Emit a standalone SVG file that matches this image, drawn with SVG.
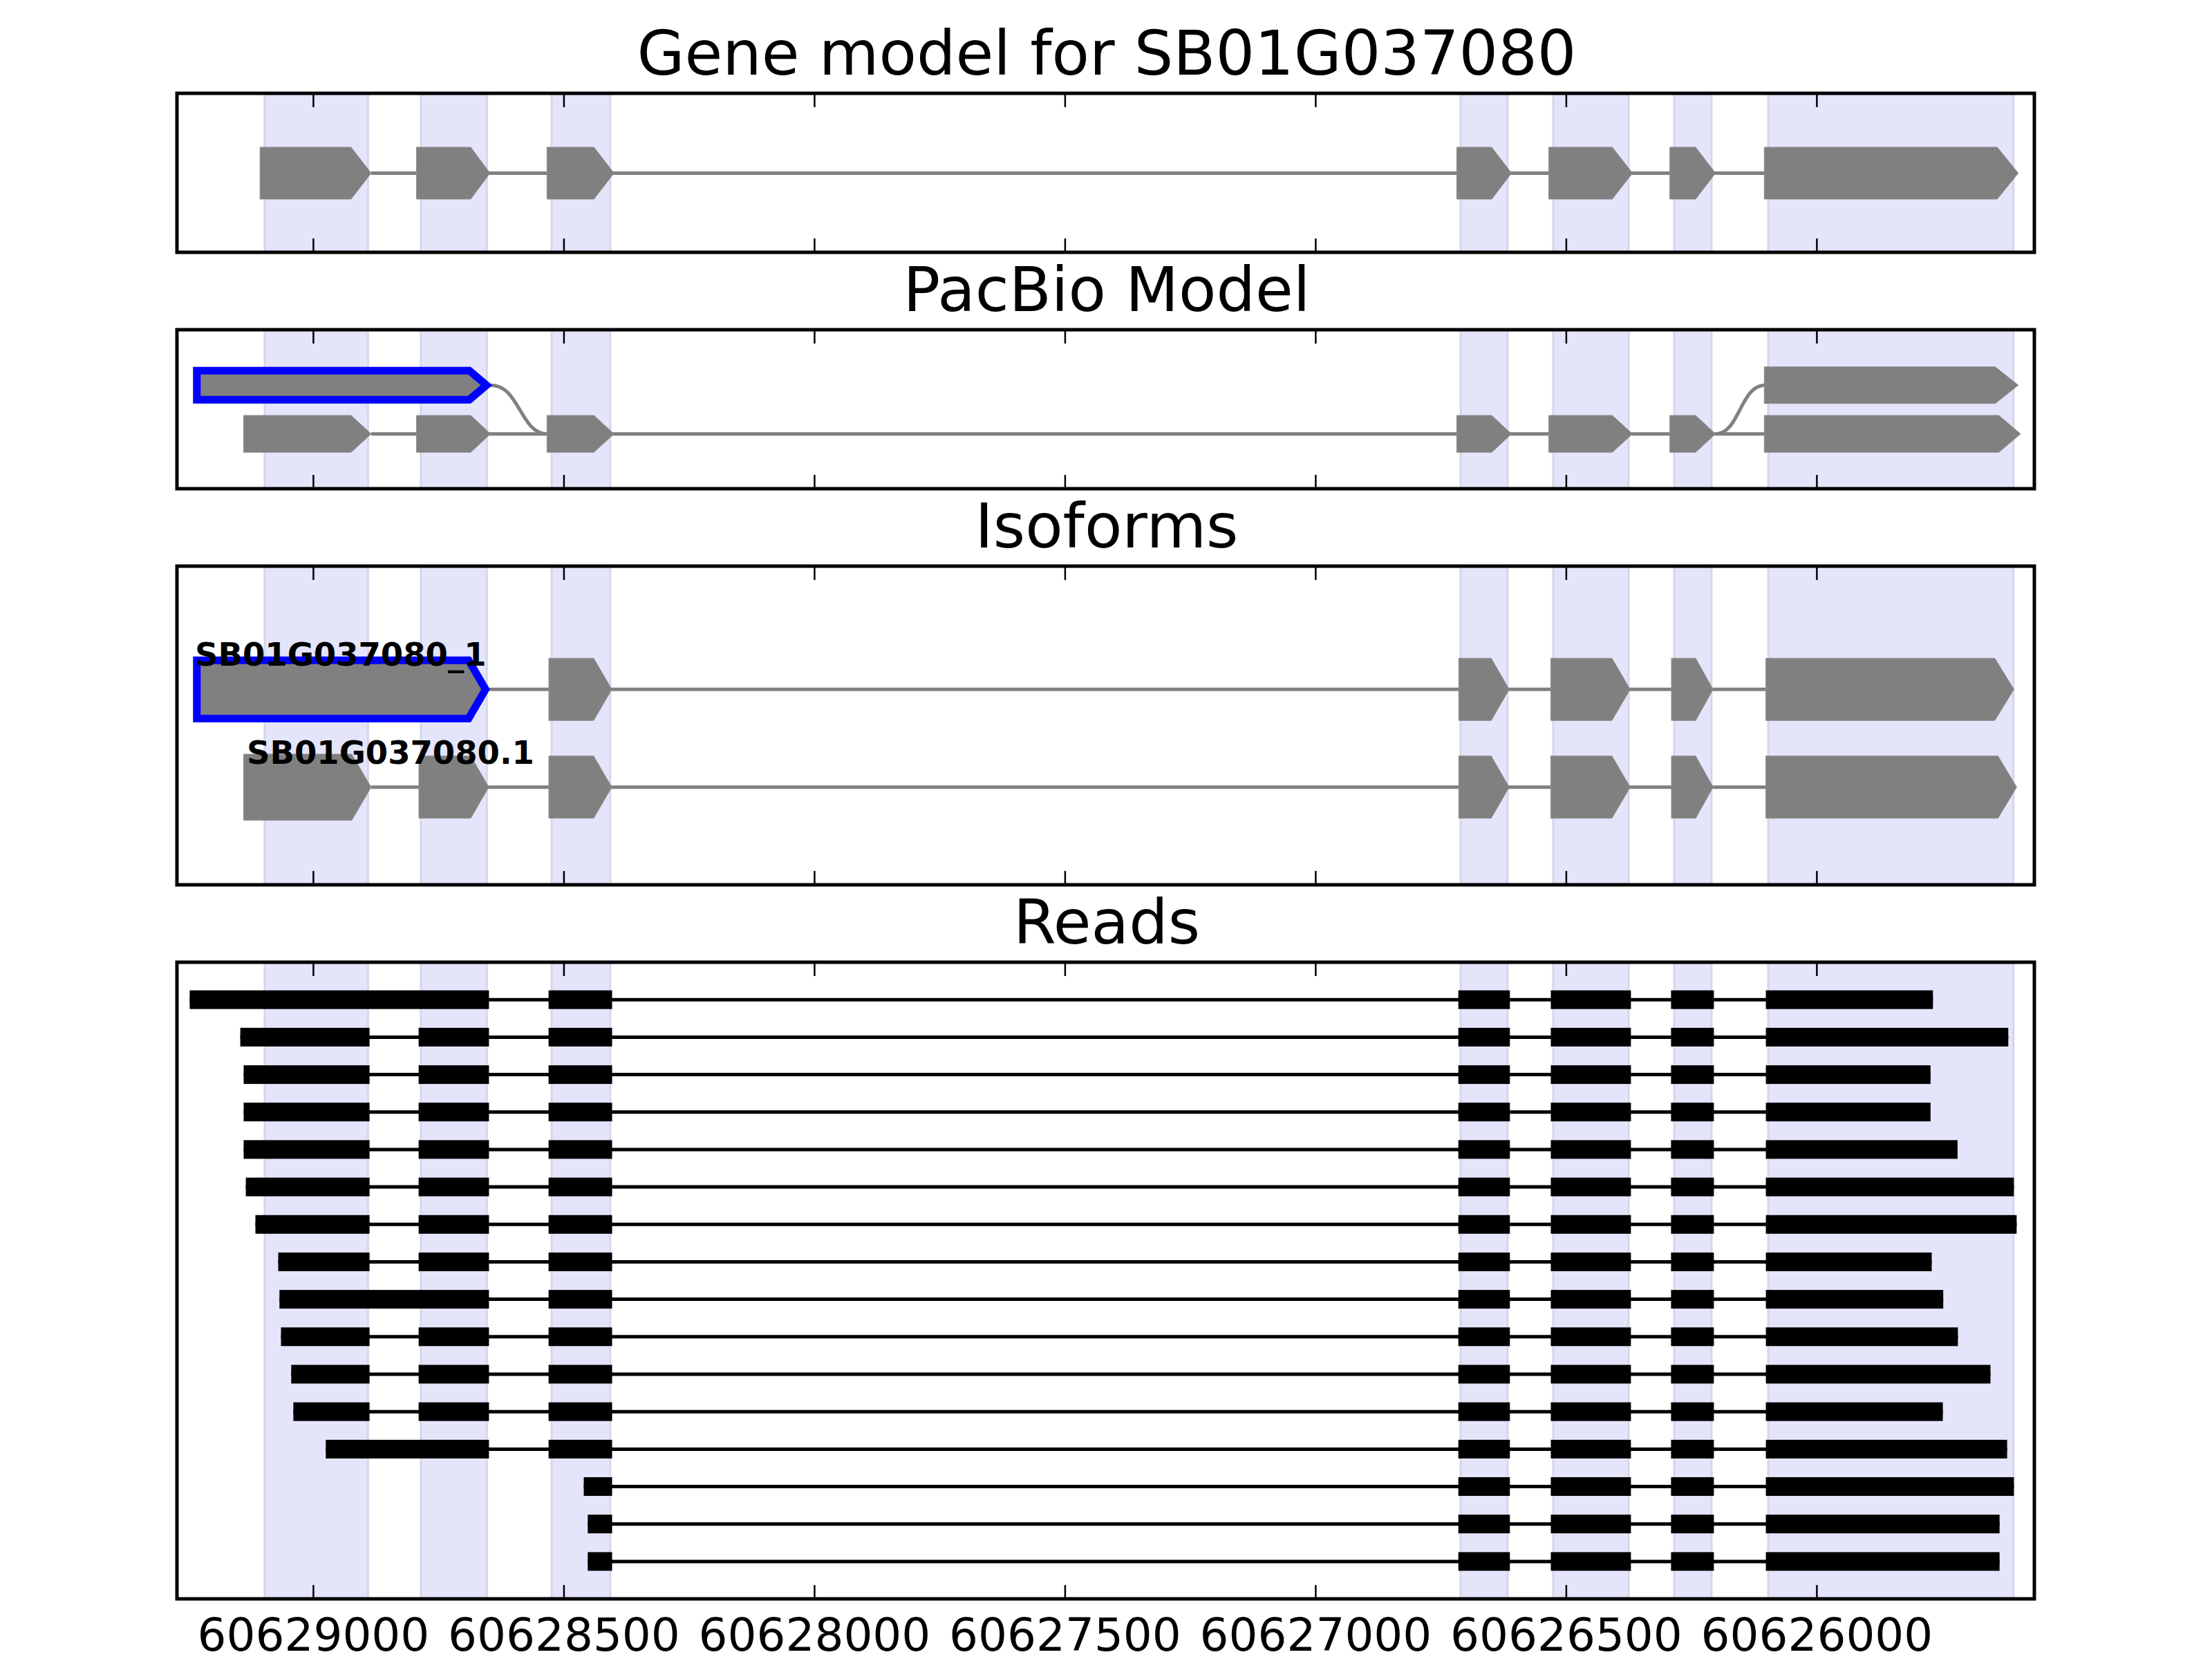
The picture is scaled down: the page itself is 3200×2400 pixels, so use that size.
<svg xmlns="http://www.w3.org/2000/svg" xmlns:xlink="http://www.w3.org/1999/xlink" width="3200" height="2400" viewBox="0 0 3200 2400">
<style>
.frame{fill:none;stroke:#000;stroke-width:5}
.shade{fill:#e4e4fb;stroke:#d6d6ea;stroke-width:3}
.exon{fill:#808080;stroke:#8c8c8c;stroke-width:1}
.intron{fill:none;stroke:#808080;stroke-width:5}
.read{fill:#000}
.rline{stroke:#000;stroke-width:5}
.tick{stroke:#000;stroke-width:2.5}
.title{font-family:"DejaVu Sans",sans-serif;font-size:89px;text-anchor:middle;fill:#000}
.tl{font-family:"DejaVu Sans",sans-serif;font-size:66px;text-anchor:middle;fill:#000}
.lbl{font-family:"DejaVu Sans",sans-serif;font-weight:bold;font-size:46.5px;fill:#000}
.blue{fill:#808080;stroke:#0000ff;stroke-width:22}
</style>
<defs>
<g id="tt">
<line class="tick" x1="453.4" y1="0" x2="453.4" y2="20"/><line class="tick" x1="815.9" y1="0" x2="815.9" y2="20"/><line class="tick" x1="1178.4" y1="0" x2="1178.4" y2="20"/><line class="tick" x1="1540.9" y1="0" x2="1540.9" y2="20"/><line class="tick" x1="1903.4" y1="0" x2="1903.4" y2="20"/><line class="tick" x1="2265.9" y1="0" x2="2265.9" y2="20"/><line class="tick" x1="2628.4" y1="0" x2="2628.4" y2="20"/>
</g>
<g id="tb">
<line class="tick" x1="453.4" y1="-20" x2="453.4" y2="0"/><line class="tick" x1="815.9" y1="-20" x2="815.9" y2="0"/><line class="tick" x1="1178.4" y1="-20" x2="1178.4" y2="0"/><line class="tick" x1="1540.9" y1="-20" x2="1540.9" y2="0"/><line class="tick" x1="1903.4" y1="-20" x2="1903.4" y2="0"/><line class="tick" x1="2265.9" y1="-20" x2="2265.9" y2="0"/><line class="tick" x1="2628.4" y1="-20" x2="2628.4" y2="0"/>
</g>
<g id="rc"><rect class="read" x="793.6" y="-13.5" width="91.9" height="27"/></g>
<g id="rdef"><rect class="read" x="2109.7" y="-13.5" width="74.6" height="27"/><rect class="read" x="2243.5" y="-13.5" width="115.9" height="27"/><rect class="read" x="2417.4" y="-13.5" width="62" height="27"/></g>
<g id="rb"><rect class="read" x="605.6" y="-13.5" width="101.8" height="27"/></g>
<clipPath id="c2"><path d="M279.3,530.7 L681,530.7 L712.3,557.2 L681,583.7 L279.3,583.7 Z"/></clipPath>
<clipPath id="c3"><path d="M279.3,949.7 L681,949.7 L708.8,997.3 L681,1045 L279.3,1045 Z"/></clipPath>
</defs>
<rect x="0" y="0" width="3200" height="2400" fill="#fff"/>

<g id="panel-gene-model">
<rect class="shade" x="382.9" y="135" width="149.5" height="230"/><rect class="shade" x="608.8" y="135" width="95.5" height="230"/><rect class="shade" x="798" y="135" width="84.9" height="230"/><rect class="shade" x="2113" y="135" width="68" height="230"/><rect class="shade" x="2247" y="135" width="109" height="230"/><rect class="shade" x="2422" y="135" width="54" height="230"/><rect class="shade" x="2558" y="135" width="354.8" height="230"/>
<text class="title" x="1601" y="108">Gene model for SB01G037080</text>
</g>
<g id="panel-pacbio">
<rect class="shade" x="382.9" y="477" width="149.5" height="230"/><rect class="shade" x="608.8" y="477" width="95.5" height="230"/><rect class="shade" x="798" y="477" width="84.9" height="230"/><rect class="shade" x="2113" y="477" width="68" height="230"/><rect class="shade" x="2247" y="477" width="109" height="230"/><rect class="shade" x="2422" y="477" width="54" height="230"/><rect class="shade" x="2558" y="477" width="354.8" height="230"/>
<text class="title" x="1601" y="450">PacBio Model</text>
</g>
<g id="panel-isoforms">
<rect class="shade" x="382.9" y="819" width="149.5" height="461"/><rect class="shade" x="608.8" y="819" width="95.5" height="461"/><rect class="shade" x="798" y="819" width="84.9" height="461"/><rect class="shade" x="2113" y="819" width="68" height="461"/><rect class="shade" x="2247" y="819" width="109" height="461"/><rect class="shade" x="2422" y="819" width="54" height="461"/><rect class="shade" x="2558" y="819" width="354.8" height="461"/>
<text class="title" x="1601" y="792">Isoforms</text>
</g>
<g id="panel-reads">
<rect class="shade" x="382.9" y="1392" width="149.5" height="921"/><rect class="shade" x="608.8" y="1392" width="95.5" height="921"/><rect class="shade" x="798" y="1392" width="84.9" height="921"/><rect class="shade" x="2113" y="1392" width="68" height="921"/><rect class="shade" x="2247" y="1392" width="109" height="921"/><rect class="shade" x="2422" y="1392" width="54" height="921"/><rect class="shade" x="2558" y="1392" width="354.8" height="921"/>
<text class="title" x="1601" y="1365">Reads</text>
</g>

<g id="connectors">
<line class="intron" x1="537" y1="250.5" x2="2553" y2="250.5"/>
<line class="intron" x1="537" y1="627.7" x2="2553" y2="627.7"/>
<path class="intron" d="M710,557.2 C752,557.2 752,627.7 792,627.7"/>
<path class="intron" d="M2481.7,627.7 C2517,627.7 2517,557.2 2554,557.2"/>
<line class="intron" x1="708" y1="997.3" x2="2555" y2="997.3"/>
<line class="intron" x1="537" y1="1138.7" x2="2555" y2="1138.7"/>
<line class="rline" x1="274.4" y1="1446.2" x2="2796.3" y2="1446.2"/>
<line class="rline" x1="347.6" y1="1500.4" x2="2905.3" y2="1500.4"/>
<line class="rline" x1="352.5" y1="1554.6" x2="2792.8" y2="1554.6"/>
<line class="rline" x1="352.5" y1="1608.7" x2="2792.8" y2="1608.7"/>
<line class="rline" x1="352.5" y1="1662.9" x2="2831.9" y2="1662.9"/>
<line class="rline" x1="355.6" y1="1717.1" x2="2913.4" y2="1717.1"/>
<line class="rline" x1="369.5" y1="1771.3" x2="2917.4" y2="1771.3"/>
<line class="rline" x1="402.5" y1="1825.5" x2="2794.5" y2="1825.5"/>
<line class="rline" x1="404.3" y1="1879.6" x2="2811.2" y2="1879.6"/>
<line class="rline" x1="406.5" y1="1933.8" x2="2832.4" y2="1933.8"/>
<line class="rline" x1="421.3" y1="1988" x2="2879.5" y2="1988"/>
<line class="rline" x1="424.4" y1="2042.2" x2="2810.6" y2="2042.2"/>
<line class="rline" x1="471.3" y1="2096.4" x2="2903.6" y2="2096.4"/>
<line class="rline" x1="844.5" y1="2150.5" x2="2913.4" y2="2150.5"/>
<line class="rline" x1="850.3" y1="2204.7" x2="2892.7" y2="2204.7"/>
<line class="rline" x1="850.3" y1="2258.9" x2="2892.7" y2="2258.9"/>
</g>

<g id="gene-model-exons">
<path class="exon" d="M376.2,213 L507.9,213 L536.9,250.5 L507.9,288 L376.2,288 Z"/>
<path class="exon" d="M602.5,213 L681,213 L708.8,250.5 L681,288 L602.5,288 Z"/>
<path class="exon" d="M791.3,213 L859.2,213 L888.2,250.5 L859.2,288 L791.3,288 Z"/>
<path class="exon" d="M2107.4,213 L2158,213 L2186.6,250.5 L2158,288 L2107.4,288 Z"/>
<path class="exon" d="M2240.6,213 L2332.4,213 L2361.7,250.5 L2332.4,288 L2240.6,288 Z"/>
<path class="exon" d="M2415.7,213 L2453,213 L2481.7,250.5 L2453,288 L2415.7,288 Z"/>
<path class="exon" d="M2552.3,213 L2889.3,213 L2919.7,250.5 L2889.3,288 L2552.3,288 Z"/>
</g>
<g id="pacbio-exons">
<path class="blue" clip-path="url(#c2)" d="M279.3,530.7 L681,530.7 L712.3,557.2 L681,583.7 L279.3,583.7 Z"/>
<path class="exon" d="M2552.3,530.7 L2886.4,530.7 L2919.7,557.2 L2886.4,583.7 L2552.3,583.7 Z"/>
<path class="exon" d="M352.5,601 L507.9,601 L536.9,627.7 L507.9,654.3 L352.5,654.3 Z"/>
<path class="exon" d="M602.5,601 L681,601 L709.6,627.7 L681,654.3 L602.5,654.3 Z"/>
<path class="exon" d="M791.3,601 L859.2,601 L888.2,627.7 L859.2,654.3 L791.3,654.3 Z"/>
<path class="exon" d="M2107.4,601 L2158,601 L2186.6,627.7 L2158,654.3 L2107.4,654.3 Z"/>
<path class="exon" d="M2240.6,601 L2332.4,601 L2361.7,627.7 L2332.4,654.3 L2240.6,654.3 Z"/>
<path class="exon" d="M2415.7,601 L2453,601 L2481.7,627.7 L2453,654.3 L2415.7,654.3 Z"/>
<path class="exon" d="M2552.3,601 L2891.6,601 L2923,627.7 L2891.6,654.3 L2552.3,654.3 Z"/>
</g>
<g id="isoform-1">
<path class="blue" clip-path="url(#c3)" d="M279.3,949.7 L681,949.7 L708.8,997.3 L681,1045 L279.3,1045 Z"/>
<path class="exon" d="M794,952.3 L858.8,952.3 L885,997.3 L858.8,1042.3 L794,1042.3 Z"/>
<path class="exon" d="M2110.3,952.3 L2157.3,952.3 L2183.2,997.3 L2157.3,1042.3 L2110.3,1042.3 Z"/>
<path class="exon" d="M2243.5,952.3 L2331.9,952.3 L2358.3,997.3 L2331.9,1042.3 L2243.5,1042.3 Z"/>
<path class="exon" d="M2418,952.3 L2453,952.3 L2478.2,997.3 L2453,1042.3 L2418,1042.3 Z"/>
<path class="exon" d="M2554.6,952.3 L2885.8,952.3 L2913.4,997.3 L2885.8,1042.3 L2554.6,1042.3 Z"/>
<text class="lbl" x="282" y="963">SB01G037080_1</text>
</g>
<g id="isoform-2">
<path class="exon" d="M352.5,1091 L508.8,1091 L536.9,1138.8 L508.8,1186.7 L352.5,1186.7 Z"/>
<path class="exon" d="M606,1093.7 L681,1093.7 L707,1138.7 L681,1183.7 L606,1183.7 Z"/>
<path class="exon" d="M794,1093.7 L858.8,1093.7 L885,1138.7 L858.8,1183.7 L794,1183.7 Z"/>
<path class="exon" d="M2110.3,1093.7 L2157.3,1093.7 L2183.2,1138.7 L2157.3,1183.7 L2110.3,1183.7 Z"/>
<path class="exon" d="M2243.5,1093.7 L2331.9,1093.7 L2358.3,1138.7 L2331.9,1183.7 L2243.5,1183.7 Z"/>
<path class="exon" d="M2418,1093.7 L2453,1093.7 L2478.2,1138.7 L2453,1183.7 L2418,1183.7 Z"/>
<path class="exon" d="M2554.6,1093.7 L2890.4,1093.7 L2917.4,1138.7 L2890.4,1183.7 L2554.6,1183.7 Z"/>
<text class="lbl" x="357" y="1105">SB01G037080.1</text>
</g>
<g id="reads">
<g transform="translate(0,1446.2)"><rect class="read" x="274.4" y="-13.5" width="433" height="27"/><use xlink:href="#rc"/><use xlink:href="#rdef"/><rect class="read" x="2554.6" y="-13.5" width="241.7" height="27"/></g>
<g transform="translate(0,1500.4)"><rect class="read" x="347.6" y="-13.5" width="187" height="27"/><use xlink:href="#rb"/><use xlink:href="#rc"/><use xlink:href="#rdef"/><rect class="read" x="2554.6" y="-13.5" width="350.7" height="27"/></g>
<g transform="translate(0,1554.6)"><rect class="read" x="352.5" y="-13.5" width="182.1" height="27"/><use xlink:href="#rb"/><use xlink:href="#rc"/><use xlink:href="#rdef"/><rect class="read" x="2554.6" y="-13.5" width="238.2" height="27"/></g>
<g transform="translate(0,1608.7)"><rect class="read" x="352.5" y="-13.5" width="182.1" height="27"/><use xlink:href="#rb"/><use xlink:href="#rc"/><use xlink:href="#rdef"/><rect class="read" x="2554.6" y="-13.5" width="238.2" height="27"/></g>
<g transform="translate(0,1662.9)"><rect class="read" x="352.5" y="-13.5" width="182.1" height="27"/><use xlink:href="#rb"/><use xlink:href="#rc"/><use xlink:href="#rdef"/><rect class="read" x="2554.6" y="-13.5" width="277.3" height="27"/></g>
<g transform="translate(0,1717.1)"><rect class="read" x="355.6" y="-13.5" width="179" height="27"/><use xlink:href="#rb"/><use xlink:href="#rc"/><use xlink:href="#rdef"/><rect class="read" x="2554.6" y="-13.5" width="358.8" height="27"/></g>
<g transform="translate(0,1771.3)"><rect class="read" x="369.5" y="-13.5" width="165.1" height="27"/><use xlink:href="#rb"/><use xlink:href="#rc"/><use xlink:href="#rdef"/><rect class="read" x="2554.6" y="-13.5" width="362.8" height="27"/></g>
<g transform="translate(0,1825.5)"><rect class="read" x="402.5" y="-13.5" width="132.1" height="27"/><use xlink:href="#rb"/><use xlink:href="#rc"/><use xlink:href="#rdef"/><rect class="read" x="2554.6" y="-13.5" width="239.9" height="27"/></g>
<g transform="translate(0,1879.6)"><rect class="read" x="404.3" y="-13.5" width="303.1" height="27"/><use xlink:href="#rc"/><use xlink:href="#rdef"/><rect class="read" x="2554.6" y="-13.5" width="256.6" height="27"/></g>
<g transform="translate(0,1933.8)"><rect class="read" x="406.5" y="-13.5" width="128.1" height="27"/><use xlink:href="#rb"/><use xlink:href="#rc"/><use xlink:href="#rdef"/><rect class="read" x="2554.6" y="-13.5" width="277.8" height="27"/></g>
<g transform="translate(0,1988)"><rect class="read" x="421.3" y="-13.5" width="113.3" height="27"/><use xlink:href="#rb"/><use xlink:href="#rc"/><use xlink:href="#rdef"/><rect class="read" x="2554.6" y="-13.5" width="324.9" height="27"/></g>
<g transform="translate(0,2042.2)"><rect class="read" x="424.4" y="-13.5" width="110.2" height="27"/><use xlink:href="#rb"/><use xlink:href="#rc"/><use xlink:href="#rdef"/><rect class="read" x="2554.6" y="-13.5" width="256" height="27"/></g>
<g transform="translate(0,2096.4)"><rect class="read" x="471.3" y="-13.5" width="236.1" height="27"/><use xlink:href="#rc"/><use xlink:href="#rdef"/><rect class="read" x="2554.6" y="-13.5" width="349" height="27"/></g>
<g transform="translate(0,2150.5)"><rect class="read" x="844.5" y="-13.5" width="41" height="27"/><use xlink:href="#rdef"/><rect class="read" x="2554.6" y="-13.5" width="358.8" height="27"/></g>
<g transform="translate(0,2204.7)"><rect class="read" x="850.3" y="-13.5" width="35.2" height="27"/><use xlink:href="#rdef"/><rect class="read" x="2554.6" y="-13.5" width="338.1" height="27"/></g>
<g transform="translate(0,2258.9)"><rect class="read" x="850.3" y="-13.5" width="35.2" height="27"/><use xlink:href="#rdef"/><rect class="read" x="2554.6" y="-13.5" width="338.1" height="27"/></g>
</g>

<g id="axes">
<rect class="frame" x="256" y="135" width="2687" height="230"/>
<rect class="frame" x="256" y="477" width="2687" height="230"/>
<rect class="frame" x="256" y="819" width="2687" height="461"/>
<rect class="frame" x="256" y="1392" width="2687" height="921"/>
<use xlink:href="#tt" transform="translate(0,135)"/><use xlink:href="#tb" transform="translate(0,365)"/>
<use xlink:href="#tt" transform="translate(0,477)"/><use xlink:href="#tb" transform="translate(0,707)"/>
<use xlink:href="#tt" transform="translate(0,819)"/><use xlink:href="#tb" transform="translate(0,1280)"/>
<use xlink:href="#tt" transform="translate(0,1392)"/><use xlink:href="#tb" transform="translate(0,2313)"/>
<text class="tl" x="453.4" y="2388">60629000</text>
<text class="tl" x="815.9" y="2388">60628500</text>
<text class="tl" x="1178.4" y="2388">60628000</text>
<text class="tl" x="1540.9" y="2388">60627500</text>
<text class="tl" x="1903.4" y="2388">60627000</text>
<text class="tl" x="2265.9" y="2388">60626500</text>
<text class="tl" x="2628.4" y="2388">60626000</text>
</g>
</svg>
